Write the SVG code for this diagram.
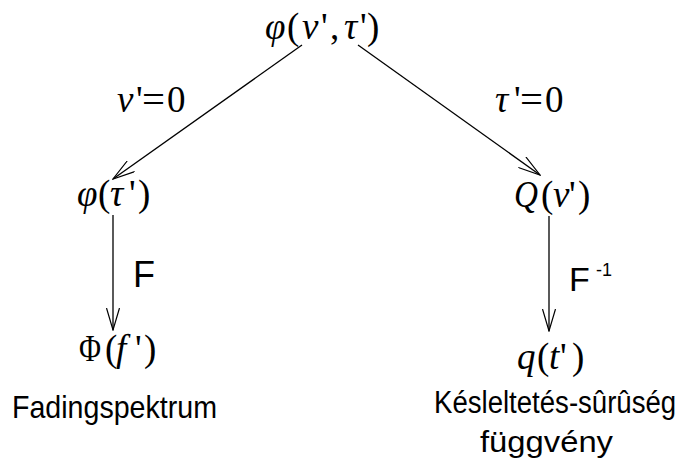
<svg xmlns="http://www.w3.org/2000/svg" width="685" height="459" viewBox="0 0 685 459">
<defs>
<marker id="arr" markerUnits="userSpaceOnUse" viewBox="0 0 23 14" refX="22" refY="7" markerWidth="23" markerHeight="14" orient="auto">
<path d="M0,0.5 L22,7 L0,13.5" fill="none" stroke="#000" stroke-width="1.2"/>
</marker>
<style>
.m{font-family:"Liberation Serif","Times New Roman",serif;font-size:37px;fill:#000}
.i{font-style:italic}
.s{font-family:"Liberation Sans",Arial,sans-serif;fill:#000}
.e{stroke:#000;stroke-width:1.3;fill:none;marker-end:url(#arr)}
</style>
</defs>
<rect width="685" height="459" fill="#fff"/>
<g id="connectors">
<line class="e" x1="302" y1="45" x2="113" y2="179"/>
<line class="e" x1="358" y1="45" x2="540" y2="175"/>
<line class="e" x1="113" y1="215" x2="113" y2="330"/>
<line class="e" x1="549" y1="216" x2="549" y2="331"/>
</g>
<g id="labels">
<text class="m" y="112"><tspan class="i" x="117">ν</tspan><tspan x="136">'</tspan><tspan x="142" textLength="23" lengthAdjust="spacingAndGlyphs">=</tspan><tspan x="167">0</tspan></text>
<text class="m" y="112"><tspan class="i" x="495">τ</tspan><tspan x="514">'</tspan><tspan x="520" textLength="23" lengthAdjust="spacingAndGlyphs">=</tspan><tspan x="545">0</tspan></text>
<text class="s" x="133" y="287" font-size="36">F</text>
<text class="s" x="569" y="291" font-size="34">F</text>
<text class="s" x="596" y="276" font-size="18">-1</text>
</g>
<g id="n-top">
<text class="m" y="39"><tspan class="i" x="265">φ</tspan><tspan x="287">(</tspan><tspan class="i" x="302">ν</tspan><tspan x="321">'</tspan><tspan x="330">,</tspan><tspan class="i" x="344">τ</tspan><tspan x="360">'</tspan><tspan x="367">)</tspan></text>
</g>
<g id="n-phitau">
<text class="m" y="206"><tspan class="i" x="77">φ</tspan><tspan x="98">(</tspan><tspan class="i" x="110">τ</tspan><tspan x="129">'</tspan><tspan x="138">)</tspan></text>
</g>
<g id="n-qnu">
<text class="m" y="207"><tspan class="i" x="514" textLength="24" lengthAdjust="spacingAndGlyphs">Q</tspan><tspan x="541">(</tspan><tspan class="i" x="553">ν</tspan><tspan x="569">'</tspan><tspan x="578">)</tspan></text>
</g>
<g id="n-Phi">
<text class="m" y="361"><tspan x="79" textLength="22" lengthAdjust="spacingAndGlyphs">Φ</tspan><tspan x="105">(</tspan><tspan class="i" x="116">f</tspan><tspan x="135">'</tspan><tspan x="144">)</tspan></text>
<text class="s" x="12" y="418" font-size="32" textLength="205" lengthAdjust="spacingAndGlyphs">Fadingspektrum</text>
</g>
<g id="n-q">
<text class="m" y="369"><tspan class="i" x="517">q</tspan><tspan x="537">(</tspan><tspan class="i" x="549">t</tspan><tspan x="560">'</tspan><tspan x="572">)</tspan></text>
<text class="s" transform="translate(434,413) scale(0.89,1)" x="0" y="0" font-size="31">Késleltetés-sûrûség</text>
<text class="s" x="480" y="452" font-size="30" textLength="133" lengthAdjust="spacingAndGlyphs">függvény</text>
</g>
</svg>
